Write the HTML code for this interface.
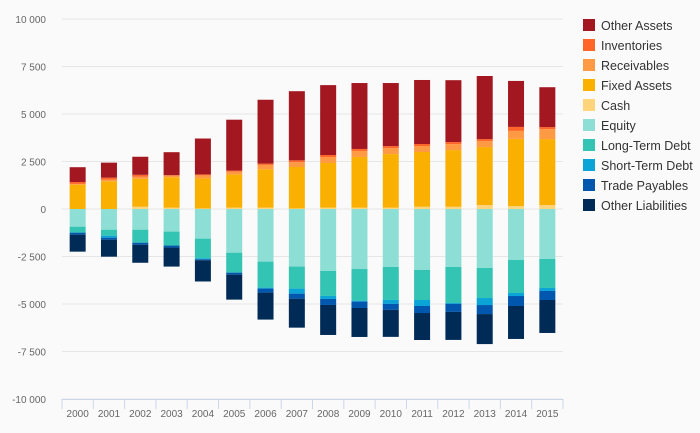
<!DOCTYPE html>
<html><head><meta charset="utf-8"><style>
html,body{margin:0;padding:0;background:#fafafa;}
svg{display:block;font-family:"Liberation Sans",sans-serif;}
</style></head><body>
<svg id="chart" width="700" height="433">
<rect width="700" height="433" fill="#fafafa"/>
<g id="grid"></g><g id="bars"></g><g id="axes"></g><g id="legend"></g>
</svg>
<script>
const years=["2000","2001","2002","2003","2004","2005","2006","2007","2008","2009","2010","2011","2012","2013","2014","2015"];
const cash=[0,0,120,70,30,70,70,30,70,70,70,120,120,210,160,210];
const fixedAssets=[1280,1460,1470,1600,1580,1740,2020,2180,2350,2670,2820,2880,2980,3050,3530,3470];
const receivables=[40,90,105,90,160,160,230,250,315,315,315,315,315,315,420,525];
const inventories=[100,100,105,20,50,50,70,100,105,105,105,105,105,105,210,105];
const otherAssets=[780,790,950,1210,1890,2680,3360,3640,3680,3470,3320,3370,3260,3320,2420,2100];
const equity=[-930,-1090,-1090,-1190,-1560,-2300,-2770,-3030,-3260,-3160,-3050,-3210,-3050,-3105,-2685,-2630];
const longTermDebt=[-315,-315,-685,-735,-1035,-1050,-1370,-1160,-1315,-1665,-1735,-1580,-1895,-1580,-1735,-1525];
const shortTermDebt=[0,-105,0,0,-50,0,-50,-265,-160,-50,-210,-315,-50,-370,-160,-160];
const tradePayables=[-105,-105,-105,-105,-50,-105,-210,-265,-315,-335,-315,-370,-420,-475,-525,-475];
const otherLiabilities=[-895,-895,-950,-1000,-1120,-1315,-1420,-1525,-1580,-1525,-1420,-1420,-1475,-1580,-1735,-1735];
const yTicks=[10000,7500,5000,2500,0,-2500,-5000,-7500,-10000];
const yTickLabels=["10 000","7 500","5 000","2 500","0","-2 500","-5 000","-7 500","-10 000"];

const NS="http://www.w3.org/2000/svg";
const X0=62,X1=563,Y0=19,Y1=399;
const band=(X1-X0)/years.length;
function y(v){return Y0+(10000-v)*(Y1-Y0)/20000;}
function xc(i){return X0+band*(i+0.5);}
function mk(tag,attrs,parent){const e=document.createElementNS(NS,tag);for(const k in attrs)e.setAttribute(k,attrs[k]);parent.appendChild(e);return e;}

const grid=document.getElementById('grid');
yTicks.forEach((t,i)=>{
  const l=mk('line',{x1:X0,x2:X1,y1:y(t),y2:y(t),stroke:'#e6e6e6','stroke-width':1},grid);
  
  
  const tx=mk('text',{x:46,y:y(t)+4,'text-anchor':'end','font-size':10,fill:'#666'},grid);
  tx.textContent=yTickLabels[i];
  
  
});

const series=[
 {name:"Cash",data:cash,color:"#ffd47a",pos:true},
 {name:"Fixed Assets",data:fixedAssets,color:"#fab000",pos:true},
 {name:"Receivables",data:receivables,color:"#ff9a44",pos:true},
 {name:"Inventories",data:inventories,color:"#ff6628",pos:true},
 {name:"Other Assets",data:otherAssets,color:"#a31820",pos:true},
 {name:"Equity",data:equity,color:"#8ddfd5",pos:false},
 {name:"Long-Term Debt",data:longTermDebt,color:"#33c4b3",pos:false},
 {name:"Short-Term Debt",data:shortTermDebt,color:"#0aa5d6",pos:false},
 {name:"Trade Payables",data:tradePayables,color:"#0057ad",pos:false},
 {name:"Other Liabilities",data:otherLiabilities,color:"#002b57",pos:false}
];
const bars=document.getElementById('bars');
const bw=16;
years.forEach((yr,i)=>{
  let p=0,n=0;
  series.forEach(s=>{
    const v=s.data[i];
    let a,b;
    if(v>=0){a=p;b=p+v;p=b;}else{a=n;b=n+v;n=b;}
    const top=y(Math.max(a,b)),bot=y(Math.min(a,b));
    if(bot-top<=0)return;
    const r=mk('rect',{x:xc(i)-bw/2,y:top,width:bw,height:bot-top,fill:s.color},bars);
    
    
  });
});

const axes=document.getElementById('axes');
const al=mk('line',{x1:X0,x2:X1,y1:Y1+0.5,y2:Y1+0.5,stroke:'#ccd6eb','stroke-width':1},axes);


for(let i=0;i<=years.length;i++){
  const tk=mk('line',{x1:X0+band*i,x2:X0+band*i,y1:Y1,y2:Y1+10,stroke:'#ccd6eb','stroke-width':1},axes);
  
  
}
years.forEach((yr,i)=>{
  const t=mk('text',{x:xc(i),y:417,'text-anchor':'middle','font-size':10,fill:'#666'},axes);
  t.textContent=yr;
  
  
});

const legend=document.getElementById('legend');
const order=[4,3,2,1,0,5,6,7,8,9];
order.forEach((si,k)=>{
  const s=series[si];
  const g=mk('g',{},legend);
  
  
  mk('rect',{x:583,y:19+k*20,width:12,height:12,fill:s.color},g);
  const t=mk('text',{x:601,y:30+k*20,'font-size':12.5,fill:'#333'},g);
  t.textContent=s.name;
});
</script>
</body></html>
